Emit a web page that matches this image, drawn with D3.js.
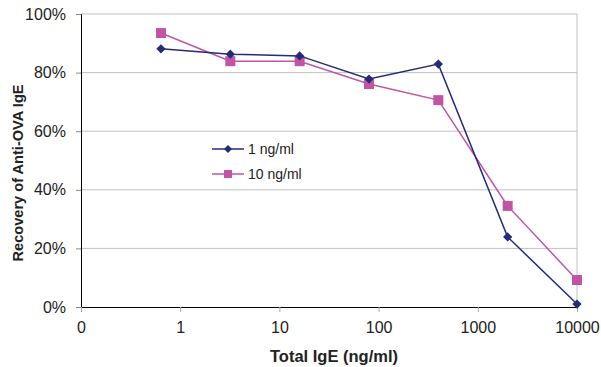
<!DOCTYPE html>
<html>
<head>
<meta charset="utf-8">
<script src="https://cdn.jsdelivr.net/npm/d3@7"></script>
<style>
body { margin: 0; background: #fff; }
text { font-family: "Liberation Sans", Arial, sans-serif; }
</style>
</head>
<body>
<svg id="chart" width="601" height="367"></svg>
<script>
// total IgE concentrations (ng/ml), log scale
var concentrations = [0.64, 3.2, 16, 80, 400, 2000, 10000];
var series1Name = "1 ng/ml";
var series1 = [88.1, 86.3, 85.7, 77.8, 82.9, 23.9, 1.0];
var series2Name = "10 ng/ml";
var series2 = [93.5, 83.9, 83.9, 76.1, 70.6, 34.5, 9.2];
var xTicks = [0.1, 1, 10, 100, 1000, 10000];
var xTickLabels = ["0", "1", "10", "100", "1000", "10000"];
var yTicks = [0, 20, 40, 60, 80, 100];

var navy = "#262a7a";
var pink = "#c155a4";

var margin = {left: 81, right: 24, top: 14, bottom: 60};
var width = 601 - margin.left - margin.right;
var height = 367 - margin.top - margin.bottom;

var svg = d3.select("#chart");
var g = svg.append("g").attr("transform", "translate(" + margin.left + "," + margin.top + ")");

var x = d3.scaleLog().domain([0.1, 10000]).range([0, width]);
var y = d3.scaleLinear().domain([0, 100]).range([height, 0]);

// gridlines
g.append("g")
    .selectAll("line")
    .data(yTicks.slice(1))
    .enter().append("line")
    .attr("x1", 0).attr("x2", width)
    .attr("y1", function(d){ return y(d); })
    .attr("y2", function(d){ return y(d); })
    .attr("stroke", "#c0c0c0");

// right border
g.append("line")
    .attr("x1", width).attr("x2", width)
    .attr("y1", 0).attr("y2", height)
    .attr("stroke", "#c0c0c0");

// y axis
var yAxis = g.append("g")
    .call(d3.axisLeft(y).tickValues(yTicks).tickSize(5).tickPadding(10)
        .tickFormat(function(d){ return d + "%"; }));
yAxis.select(".domain").attr("stroke", "#000");
yAxis.selectAll(".tick line").attr("stroke", "#888");
yAxis.selectAll("text").attr("font-size", "16px").attr("fill", "#222");

// x axis
var xAxis = g.append("g")
    .attr("transform", "translate(0," + height + ")")
    .call(d3.axisBottom(x).tickValues(xTicks).tickSize(5).tickPadding(10)
        .tickFormat(function(d, i){ return xTickLabels[i]; }));
xAxis.select(".domain").attr("stroke", "#000");
xAxis.selectAll(".tick line").attr("stroke", "#aaa");
xAxis.selectAll("text").attr("font-size", "16px").attr("fill", "#222");

// axis titles
svg.append("text")
    .attr("x", 334)
    .attr("y", 362)
    .attr("text-anchor", "middle")
    .attr("font-size", "16.5px")
    .attr("font-weight", "bold")
    .attr("fill", "#222")
    .text("Total IgE (ng/ml)");

svg.append("text")
    .attr("transform", "translate(23,173) rotate(-90)")
    .attr("text-anchor", "middle")
    .attr("font-size", "14.6px")
    .attr("font-weight", "bold")
    .attr("fill", "#222")
    .text("Recovery of Anti-OVA IgE");

var line = d3.line()
    .x(function(d, i){ return x(concentrations[i]); })
    .y(function(d){ return y(d); });

var diamond = d3.symbol().type(d3.symbolDiamond2).size(55);

// series 2 (pink squares)
g.append("path").datum(series2)
    .attr("d", line).attr("fill", "none").attr("stroke", pink).attr("stroke-width", 1.5);
g.selectAll(".sq").data(series2).enter().append("rect")
    .attr("x", function(d, i){ return x(concentrations[i]) - 5; })
    .attr("y", function(d){ return y(d) - 5; })
    .attr("width", 10).attr("height", 10)
    .attr("fill", pink);

// series 1 (navy diamonds)
g.append("path").datum(series1)
    .attr("d", line).attr("fill", "none").attr("stroke", navy).attr("stroke-width", 1.5);
g.selectAll(".dm").data(series1).enter().append("path")
    .attr("d", diamond)
    .attr("transform", function(d, i){ return "translate(" + x(concentrations[i]) + "," + y(d) + ")"; })
    .attr("fill", navy);

// legend
var legend = svg.append("g").attr("transform", "translate(212,149)");
var legendItems = [
    {name: series1Name, color: navy, shape: "diamond"},
    {name: series2Name, color: pink, shape: "square"}
];
legendItems.forEach(function(item, i){
    var row = legend.append("g").attr("transform", "translate(0," + (i * 25) + ")");
    row.append("line").attr("x1", 0).attr("x2", 32).attr("y1", 0).attr("y2", 0)
        .attr("stroke", item.color).attr("stroke-width", 1.5);
    if (item.shape === "diamond") {
        row.append("path").attr("d", d3.symbol().type(d3.symbolDiamond2).size(40))
            .attr("transform", "translate(16,0)").attr("fill", item.color);
    } else {
        row.append("rect").attr("x", 12).attr("y", -4).attr("width", 8).attr("height", 8)
            .attr("fill", item.color);
    }
    row.append("text").attr("x", 36).attr("y", 5)
        .attr("font-size", "14px").attr("fill", "#222").text(item.name);
});
</script>
</body>
</html>
